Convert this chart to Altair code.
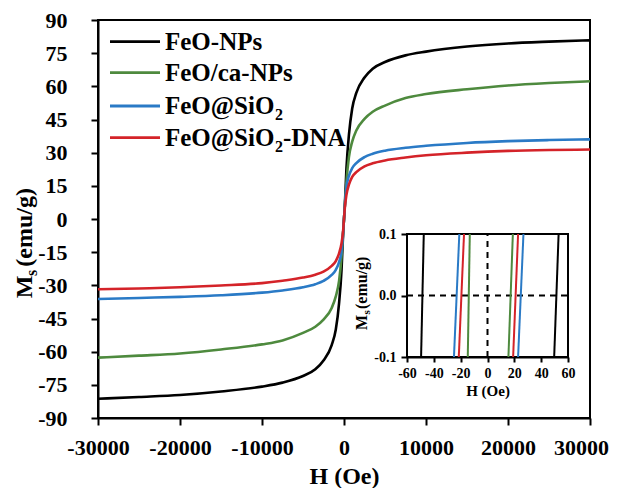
import altair as alt
import pandas as pd

FONT = "Liberation Serif"

# ---------------- main hysteresis curves ----------------
H = [-30000, -25000, -20000, -15000, -10000, -7500, -5000, -3500, -2500, -1500,
     -1000, -600, -300, -100, 0, 100, 300, 600, 1000, 1500, 2500, 3500, 5000,
     7500, 10000, 15000, 20000, 25000, 30000]

M_black = [-81.3, -80.5, -79.6, -78.0, -75.8, -74.0, -71.0, -68.0, -64.0, -57.0,
           -50.0, -38.0, -23.0, -6.0, 0.0, 6.0, 23.0, 38.0, 50.0, 57.0, 64.0, 68.0,
           71.0, 74.0, 75.7, 78.0, 79.4, 80.2, 80.8]
M_green = [-62.7, -61.8, -60.8, -59.0, -56.7, -54.9, -51.5, -48.7, -45.5, -40.2,
           -35.0, -28.0, -17.0, -6.0, 0.0, 6.0, 17.0, 28.0, 35.0, 40.0, 45.3, 48.5,
           51.3, 54.7, 56.5, 58.7, 60.4, 61.5, 62.3]
M_blue = [-36.2, -35.7, -35.2, -34.5, -33.3, -32.3, -30.9, -29.5, -28.0, -25.3,
          -23.0, -19.5, -14.5, -6.0, 0.0, 6.0, 14.5, 19.5, 23.0, 25.3, 28.0, 29.5,
          30.9, 32.2, 33.1, 34.4, 35.2, 35.7, 36.0]
M_red = [-31.8, -31.4, -30.9, -30.1, -29.0, -27.9, -26.5, -25.2, -23.8, -21.2,
         -19.0, -15.5, -11.0, -5.0, 0.0, 5.0, 11.0, 15.5, 19.0, 21.2, 23.8, 25.2,
         26.5, 27.8, 28.8, 30.0, 30.8, 31.2, 31.4]

series_names = ["FeO-NPs", "FeO/ca-NPs", "FeO@SiO2", "FeO@SiO2-DNA"]
series_colors = ["#000000", "#4E8A3E", "#2A7AC6", "#D42329"]
series_values = [M_black, M_green, M_blue, M_red]

# ---------------- inset (low-field zoom) ----------------
inset_left_bottom = [-49.5, -14.7, -25.0, -21.4]
inset_left_top = [-47.5, -13.2, -21.0, -17.5]
inset_right_bottom = [49.7, 15.6, 22.8, 19.1]
inset_right_top = [53.0, 18.9, 26.8, 22.8]
inset_M_ends = [-0.1, 0.1]

x_ticks = [-30000, -20000, -10000, 0, 10000, 20000, 30000]
y_ticks = [-90, -75, -60, -45, -30, -15, 0, 15, 30, 45, 60, 75, 90]
ix_ticks = [-60, -40, -20, 0, 20, 40, 60]
iy_ticks = [-0.1, 0.0, 0.1]

rows = []
for name, vals in zip(series_names, series_values):
    for h, m in zip(H, vals):
        rows.append({"series": name, "H": h, "M": m})
df = pd.DataFrame(rows)

irows = []
for i, name in enumerate(series_names):
    irows.append({"series": name, "branch": "L", "x": inset_left_bottom[i], "y": inset_M_ends[0]})
    irows.append({"series": name, "branch": "L", "x": inset_left_top[i], "y": inset_M_ends[1]})
    irows.append({"series": name, "branch": "R", "x": inset_right_bottom[i], "y": inset_M_ends[0]})
    irows.append({"series": name, "branch": "R", "x": inset_right_top[i], "y": inset_M_ends[1]})
dfi = pd.DataFrame(irows)

one = pd.DataFrame({"k": [0]})

# ---------------- main scales / axes ----------------
xscale = alt.Scale(domain=[-30000, 30000], nice=False, zero=False)
yscale = alt.Scale(domain=[-90, 90], nice=False, zero=False)

xaxis = alt.Axis(values=x_ticks, title="H (Oe)", labelExpr="'' + datum.value",
                 labelFont=FONT, labelFontSize=22, labelFontWeight="bold", labelColor="black",
                 labelPadding=12, labelOverlap=False, labelFlush=False,
                 labelOffset={"condition": {"test": "datum.value == 30000", "value": -9}, "value": 0},
                 titleFont=FONT, titleFontSize=24, titleFontWeight="bold", titleColor="black",
                 titlePadding=6, tickSize=7, tickWidth=2, tickColor="black",
                 domainColor="black", domainWidth=2, grid=False)
yaxis = alt.Axis(values=y_ticks, title=None, labelExpr="'' + datum.value",
                 labelFont=FONT, labelFontSize=22, labelFontWeight="bold", labelColor="black",
                 labelPadding=24, labelOverlap=False, labelFlush=False,
                 tickSize=7, tickWidth=2, tickColor="black",
                 domainColor="black", domainWidth=2, grid=False)

main_layers = []
for name, color in zip(series_names, series_colors):
    main_layers.append(
        alt.Chart(df).transform_filter(alt.datum.series == name)
        .mark_line(color=color, strokeWidth=2.6, interpolate="monotone")
        .encode(x=alt.X("H:Q", scale=xscale, axis=xaxis),
                y=alt.Y("M:Q", scale=yscale, axis=yaxis))
    )

# legend (manual)
legend_rows_y = [21.7, 52.7, 86.0, 117.7]
legend_parts = [
    [("FeO-NPs", 0, 0, 25)],
    [("FeO/ca-NPs", 0, 0, 25)],
    [("FeO@SiO", 0, 0, 25), ("2", 110, 9, 16)],
    [("FeO@SiO", 0, 0, 25), ("2", 110, 9, 16), ("-DNA", 118, 0, 25)],
]
for yv, color, parts in zip(legend_rows_y, series_colors, legend_parts):
    main_layers.append(
        alt.Chart(one).mark_rule(color=color, strokeWidth=2.8)
        .encode(x=alt.value(12), x2=alt.value(62), y=alt.value(yv))
    )
    for txt, dx, dy, fs in parts:
        main_layers.append(
            alt.Chart(one).mark_text(text=txt, align="left", baseline="middle", font=FONT,
                                     fontSize=fs, fontWeight="bold", color="black")
            .encode(x=alt.value(67 + dx), y=alt.value(yv + dy))
        )

# y title with subscript (rotated)
for txt, xv, yv, fs in [("M", -73, 278.3, 24), ("s", -66, 256.0, 16), ("(emu/g)", -73, 246.7, 24)]:
    main_layers.append(
        alt.Chart(one).mark_text(text=txt, angle=270, align="left", baseline="middle", font=FONT,
                                 fontSize=fs, fontWeight="bold", color="black")
        .encode(x=alt.value(xv), y=alt.value(yv))
    )

main = alt.layer(*main_layers)

# ---------------- inset ----------------
ixscale = alt.Scale(domain=[-60, 60], range=[309, 470], nice=False, zero=False)
iyscale = alt.Scale(domain=[-0.1, 0.1], range=[337, 214], nice=False, zero=False)

ixaxis = alt.Axis(values=ix_ticks, orient="bottom", offset=-61, title="H (Oe)",
                  labelExpr="'' + datum.value", labelFont=FONT, labelFontSize=14,
                  labelFontWeight="bold", labelColor="black", labelPadding=4,
                  labelOverlap=False, labelFlush=False,
                  titleFont=FONT, titleFontSize=15, titleFontWeight="bold", titleColor="black",
                  titlePadding=3, tickSize=5, tickWidth=2, tickColor="black",
                  domainColor="black", domainWidth=2, grid=False)
iyaxis = alt.Axis(values=iy_ticks, orient="left", offset=-309, title=None,
                  labelExpr="replace(format(datum.value, '.1f'), '\u2212', '-')",
                  labelFont=FONT, labelFontSize=14, labelFontWeight="bold", labelColor="black",
                  labelPadding=5, labelOverlap=False, labelFlush=False,
                  tickSize=6, tickWidth=2, tickColor="black",
                  domainColor="black", domainWidth=2, grid=False)

frame = alt.Chart(pd.DataFrame({"x1": [ix_ticks[0]], "x2": [ix_ticks[-1]],
                                "y1": [iy_ticks[0]], "y2": [iy_ticks[-1]]})).mark_rect(
    fill="white", stroke="black", strokeWidth=2
).encode(x=alt.X("x1:Q", scale=ixscale, axis=ixaxis), x2="x2:Q",
         y=alt.Y("y1:Q", scale=iyscale, axis=iyaxis), y2="y2:Q")

vrule = alt.Chart(pd.DataFrame({"x": [0], "y1": [iy_ticks[0]], "y2": [iy_ticks[-1]]})).mark_rule(
    color="black", strokeWidth=2, strokeDash=[6, 5]
).encode(x="x:Q", y="y1:Q", y2="y2:Q")
hrule = alt.Chart(pd.DataFrame({"y": [0], "x1": [ix_ticks[0]], "x2": [ix_ticks[-1]]})).mark_rule(
    color="black", strokeWidth=2, strokeDash=[6, 5]
).encode(y="y:Q", x="x1:Q", x2="x2:Q")

inset_layers = [frame, vrule, hrule]
for name, color in zip(series_names, series_colors):
    inset_layers.append(
        alt.Chart(dfi).transform_filter(alt.datum.series == name)
        .mark_line(color=color, strokeWidth=2)
        .encode(x="x:Q", y="y:Q", detail="branch:N")
    )
for txt, xv, yv, fs in [("M", 263.7, 310, 16), ("s", 268.5, 294.5, 11), ("(emu/g)", 263.7, 289, 16)]:
    inset_layers.append(
        alt.Chart(one).mark_text(text=txt, angle=270, align="left", baseline="middle", font=FONT,
                                 fontSize=fs, fontWeight="bold", color="black")
        .encode(x=alt.value(xv), y=alt.value(yv))
    )

inset = alt.layer(*inset_layers)

chart = alt.layer(main, inset).resolve_scale(x="independent", y="independent").properties(
    width=492, height=398,
    autosize=alt.AutoSizeParams(type="none"),
    padding={"left": 90, "top": 12, "right": 24, "bottom": 70},
    background="white",
).configure_view(stroke="black", strokeWidth=2)

chart.save("out.html", embed_options={"renderer": "svg", "actions": False})
